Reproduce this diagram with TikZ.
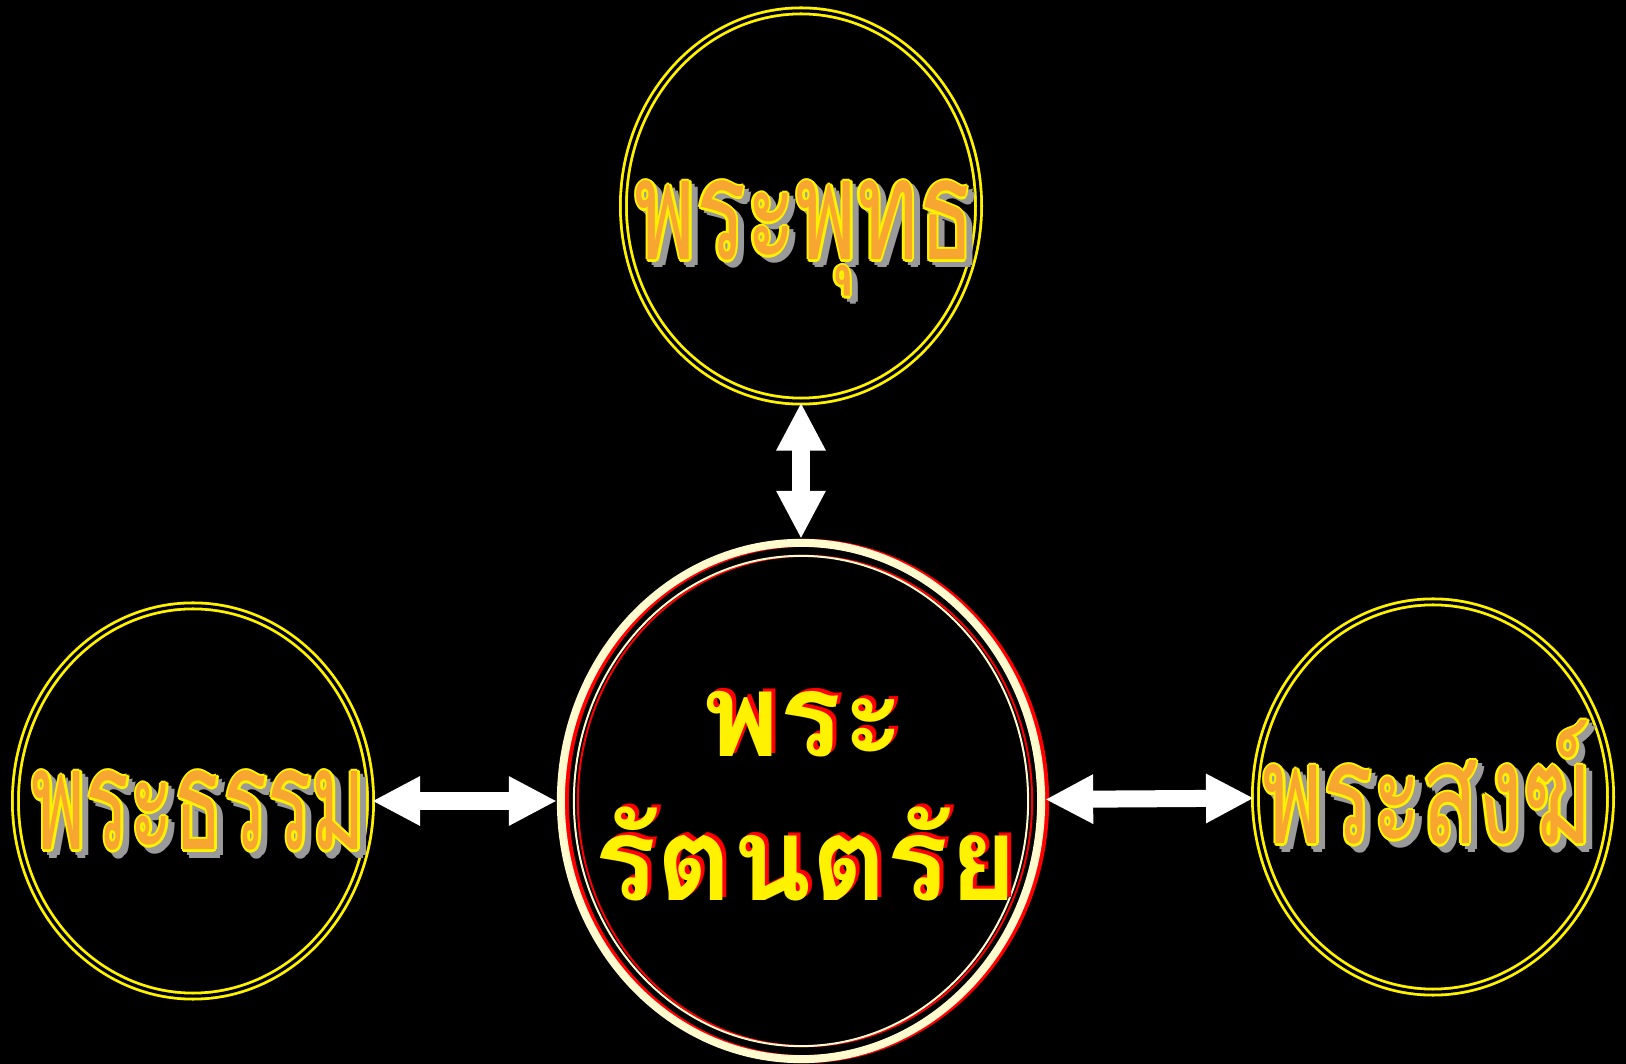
\documentclass[tikz,border=0pt]{standalone}
\usepackage{fontspec}
\newfontfamily\thaifont[Script=Thai]{Loma}
\usetikzlibrary{shapes.geometric,arrows.meta}

\definecolor{cream}{HTML}{FFFBCF}
\definecolor{textorange}{HTML}{F8A632}
\definecolor{shadowgray}{HTML}{9A9A9A}

% text squeezed to a given width, height kept
\newcommand\fitw[2]{\resizebox{#1}{\height}{#2}}
% orange text, yellow rim, grey shadow
\newcommand\glowtext[2]{%
  \makebox[#1][l]{%
    \foreach \dx/\dy in {0.25/0,0/0.25,-0.25/0,0/-0.25}{%
      \rlap{\hspace*{\dimexpr\dx mm+0.6mm\relax}\raisebox{\dimexpr\dy mm-0.55mm\relax}{\fitw{#1}{\color{shadowgray}#2}}}}%
    \foreach \dx/\dy in {0.22/0,0.16/0.16,0/0.22,-0.16/0.16,-0.22/0,-0.16/-0.16,0/-0.22,0.16/-0.16}{%
      \rlap{\hspace*{\dimexpr\dx mm\relax}\raisebox{\dimexpr\dy mm\relax}{\fitw{#1}{\color{yellow}#2}}}}%
    \rlap{\fitw{#1}{\color{textorange}#2}}%
  }}
% yellow text with red shadow
\newcommand\redtext[1]{%
  \rlap{\hspace*{0.4mm}\raisebox{0.3mm}{\color{red}#1}}{\color{yellow}#1}}

\begin{document}
\begin{tikzpicture}[x=0.01cm,y=-0.01cm,
  ring/.style={ellipse,draw=yellow,line width=0.28mm,double=black,double distance=0.32mm,
    minimum width=3.55cm,minimum height=3.9cm,inner sep=0pt},
  corering/.style={ellipse,line width=0.8mm,minimum width=4.8cm,minimum height=5.16cm,inner sep=0pt},
  twoway/.style={{Triangle[width=4.6mm,length=4.8mm]}-{Triangle[width=4.6mm,length=4.8mm]},
    draw=white,line width=1.7mm},
  word/.style={inner sep=0pt,anchor=base,font=\thaifont\fontsize{40}{48}\selectfont},
  coreword/.style={inner sep=0pt,anchor=base,font=\thaifont\bfseries\fontsize{33}{40}\selectfont}]
	\useasboundingbox (0,0) rectangle (1626,1064);
	\fill[black] (0,0) rectangle (1626,1064);

	% the three gems
	\node[ring] (buddha) at (801,206) { };
	\node[ring] (dhamma) at (193,801) { };
	\node[ring] (sangha) at (1433,797) { };

	% centre ring with its red shadow
	\node[corering,draw=red] (ratana shadow) at (805,801) { };
	\draw[red,line width=0.2mm] (ratana shadow.center) ellipse [x radius=2.27cm,y radius=2.45cm];
	\node[corering,draw=cream] (ratana) at (801,801) { };
	\draw[cream,line width=0.2mm] (ratana.center) ellipse [x radius=2.27cm,y radius=2.45cm];

	\node[word] (buddha text) at (805,260) {\glowtext{3.4cm}{พระพุทธ}};
	\node[word] (dhamma text) at (199,850) {\glowtext{3.34cm}{พระธรรม}};
	\node[word] (sangha text) at (1427,844) {\glowtext{3.28cm}{พระสงฆ์}};

	\node[coreword] (ratana top) at (804,757) {\redtext{พระ}};
	\node[coreword] (ratana bottom) at (806,901) {\redtext{รัตนตรัย}};

	\draw[twoway] (buddha) -- (ratana);
	\draw[twoway] (dhamma) -- (ratana);
	\draw[twoway] (ratana) -- (sangha);
\end{tikzpicture}
\end{document}
